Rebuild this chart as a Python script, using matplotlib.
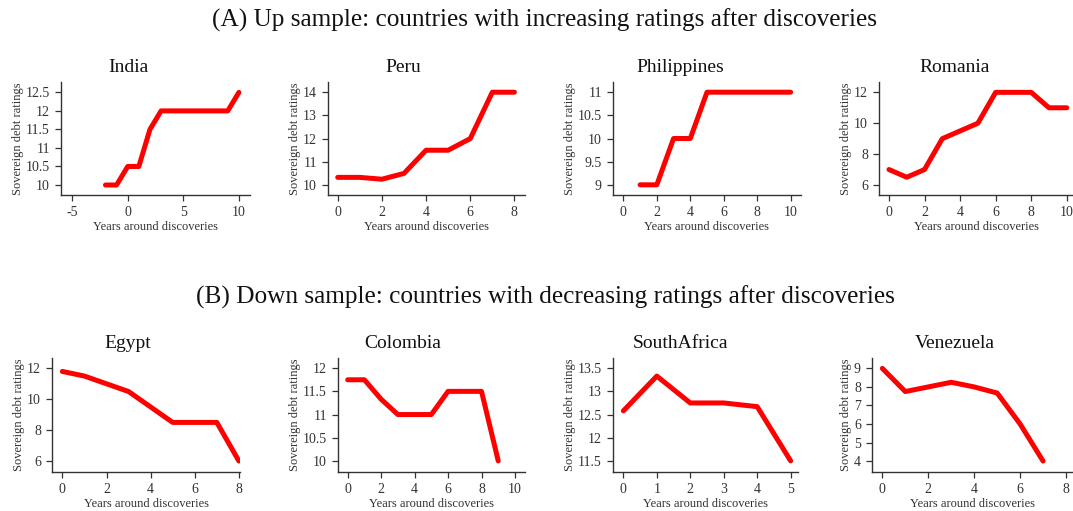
# -*- coding: utf-8 -*-
import matplotlib
matplotlib.use("Agg")
import matplotlib.pyplot as plt

plt.rcParams["font.family"] = ["Liberation Serif", "DejaVu Serif"]
plt.rcParams["axes.unicode_minus"] = False

# ---- data ----
india_x = [-2, -1, 0, 1, 2, 3, 4, 5, 6, 7, 8, 9, 10]
india_y = [10, 10, 10.5, 10.5, 11.5, 12, 12, 12, 12, 12, 12, 12, 12.5]

peru_x = [0, 1, 2, 3, 4, 5, 6, 7, 8]
peru_y = [10.33, 10.33, 10.25, 10.5, 11.5, 11.5, 12, 14, 14]

phil_x = [1, 2, 3, 4, 5, 6, 7, 8, 9, 10]
phil_y = [9, 9, 10, 10, 11, 11, 11, 11, 11, 11]

rom_x = [0, 1, 2, 3, 4, 5, 6, 7, 8, 9, 10]
rom_y = [7, 6.5, 7, 9, 9.5, 10, 12, 12, 12, 11, 11]

egypt_x = [0, 1, 2, 3, 4, 5, 6, 7, 8]
egypt_y = [11.8, 11.5, 11, 10.5, 9.5, 8.5, 8.5, 8.5, 6]

col_x = [0, 1, 2, 3, 4, 5, 6, 7, 8, 9]
col_y = [11.75, 11.75, 11.33, 11, 11, 11, 11.5, 11.5, 11.5, 10]

sa_x = [0, 1, 2, 3, 4, 5]
sa_y = [12.58, 13.33, 12.75, 12.75, 12.67, 11.5]

ven_x = [0, 1, 2, 3, 4, 5, 6, 7]
ven_y = [9, 7.75, 8, 8.25, 8, 7.67, 6, 4]

up_names = ["India", "Peru", "Philippines", "Romania"]
down_names = ["Egypt", "Colombia", "SouthAfrica", "Venezuela"]

xticks_list = [[-5, 0, 5, 10], [0, 2, 4, 6, 8], [0, 2, 4, 6, 8, 10], [0, 2, 4, 6, 8, 10],
               [0, 2, 4, 6, 8], [0, 2, 4, 6, 8, 10], [0, 1, 2, 3, 4, 5], [0, 2, 4, 6, 8]]
yticks_list = [[10, 10.5, 11, 11.5, 12, 12.5], [10, 11, 12, 13, 14], [9, 9.5, 10, 10.5, 11],
               [6, 8, 10, 12], [6, 8, 10, 12], [10, 10.5, 11, 11.5, 12],
               [11.5, 12, 12.5, 13, 13.5], [4, 5, 6, 7, 8, 9]]

series = [(india_x, india_y), (peru_x, peru_y), (phil_x, phil_y), (rom_x, rom_y),
          (egypt_x, egypt_y), (col_x, col_y), (sa_x, sa_y), (ven_x, ven_y)]
names = up_names + down_names

# ---- layout (pixel positions of the plot regions) ----
W, H = 1073, 511
boxes = [(61, 250, 82, 195), (328, 525, 82, 195), (613, 801, 82, 195), (879, 1073, 82, 195),
         (52, 240, 358, 472), (338, 525, 358, 472), (613, 798, 358, 472), (872, 1072, 358, 472)]
xlims = [(-6, 11), (-0.44, 8.48), (-0.62, 10.62), (-0.56, 10.35),
         (-0.47, 8.05), (-0.58, 10.6), (-0.31, 5.22), (-0.45, 8.26)]
ylims = [(9.73, 12.78), (9.57, 14.44), (8.78, 11.22), (5.35, 12.67),
         (5.29, 12.67), (9.76, 12.22), (11.26, 13.72), (3.41, 9.56)]
title_x = [128, 403, 680, 955, 128, 403, 680, 955]
title_y = [67, 67, 67, 67, 344, 344, 344, 344]

fig = plt.figure(figsize=(W / 100, H / 100), dpi=100)
fig.patch.set_facecolor("white")

axis_col = "#333333"
for i, (x, y) in enumerate(series):
    l, r, t, b = boxes[i]
    ax = fig.add_axes([l / W, 1 - b / H, (r - l) / W, (b - t) / H])
    ax.plot(x, y, color="#ff0000", linewidth=3.6, solid_capstyle="round",
            solid_joinstyle="round")
    ax.set_xlim(*xlims[i])
    ax.set_ylim(*ylims[i])
    ax.set_xticks(xticks_list[i])
    ax.set_yticks(yticks_list[i])
    ax.set_yticklabels([f"{v:g}" for v in yticks_list[i]])
    for s in ["top", "right"]:
        ax.spines[s].set_visible(False)
    for s in ["left", "bottom"]:
        ax.spines[s].set_color(axis_col)
        ax.spines[s].set_linewidth(1.0)
    ax.tick_params(direction="out", length=4.5, width=0.9, color=axis_col,
                   labelsize=10, labelcolor="#333333", pad=3.5)
    ax.set_xlabel("Years around discoveries", fontsize=9, color="#333333", labelpad=1.5)
    ax.set_ylabel("Sovereign debt ratings", fontsize=9, color="#333333", labelpad=1.5)
    fig.text(title_x[i] / W, 1 - title_y[i] / H, names[i], fontsize=14,
             ha="center", va="center", color="#111111")

fig.text(545 / W, 1 - 20 / H,
         "(A) Up sample: countries with increasing ratings after discoveries",
         fontsize=18.2, ha="center", va="center", color="#111111")
fig.text(545 / W, 1 - 297 / H,
         "(B) Down sample: countries with decreasing ratings after discoveries",
         fontsize=18.2, ha="center", va="center", color="#111111")

fig.savefig("out.png", dpi=100)
